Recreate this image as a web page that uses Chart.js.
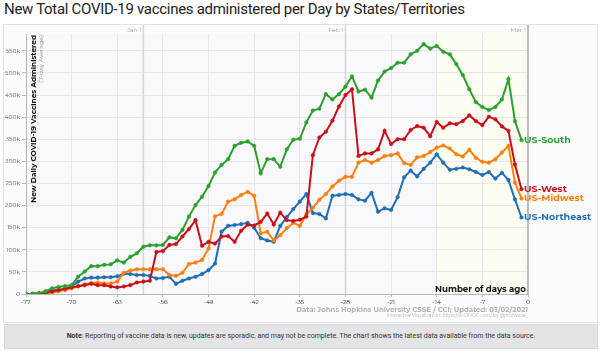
<!DOCTYPE html>
<html><head><meta charset="utf-8">
<script src="https://cdn.jsdelivr.net/npm/chart.js@4.4.1/dist/chart.umd.min.js"></script>
<style>
html,body{margin:0;padding:0;background:#fff;width:600px;height:351px;overflow:hidden}
#title{position:absolute;left:4px;top:0px;font:400 15px Roboto,sans-serif;letter-spacing:-0.3px;color:#222;white-space:nowrap}
#frame{position:absolute;left:3px;top:24px;width:593px;height:297px;border:1px solid #e2e2e8;background:#fcfcfe}
#note{position:absolute;left:4px;top:324px;width:592px;height:23px;background:#e3e4e6;border:1px solid #d6d7da;font:400 7px Roboto,sans-serif;color:#333;text-align:center;line-height:23px;white-space:nowrap}
#c{position:absolute;left:0;top:0}
</style></head>
<body>
<div id="title">New Total COVID-19 vaccines administered per Day by States/Territories</div>
<div id="frame"></div>
<div id="note"><b>Note</b>: Reporting of vaccine data is new, updates are sporadic, and may not be complete. The chart shows the latest data available from the data source.</div>
<canvas id="c" width="600" height="351"></canvas>
<script>
// Days ago (x axis categories)
const days = [-77,-76,-75,-74,-73,-72,-71,-70,-69,-68,
  -67,-66,-65,-64,-63,-62,-61,-60,-59,-58,
  -57,-56,-55,-54,-53,-52,-51,-50,-49,-48,
  -47,-46,-45,-44,-43,-42,-41,-40,-39,-38,
  -37,-36,-35,-34,-33,-32,-31,-30,-29,-28,
  -27,-26,-25,-24,-23,-22,-21,-20,-19,-18,
  -17,-16,-15,-14,-13,-12,-11,-10,-9,-8,
  -7,-6,-5,-4,-3,-2,-1];

// New daily vaccines administered, 7-day average, thousands
const usSouth = [0,0,2,6,13,16,18,20,39,51,
  63,63,66,67,76,71,84,92,107,110,
  110,111,128,126,145,175,201,220,244,275,
  292,305,335,342,345,335,273,305,305,288,
  327,349,351,388,415,419,452,440,452,469,
  492,458,462,444,483,503,511,523,523,542,
  550,565,555,561,548,542,520,495,463,434,
  423,416,423,440,486,391,348];
const usWest = [0,0,1,3,6,9,12,15,18,20,
  23,20,20,17,15,17,20,26,28,30,
  95,97,111,113,130,147,167,109,118,114,
  130,131,118,143,157,155,163,182,157,184,
  167,165,168,175,314,354,367,392,424,450,
  463,312,318,318,327,369,339,350,350,371,
  380,376,357,389,376,386,384,391,404,391,
  382,401,395,379,369,293,237];
const usMidwest = [0,0,0,1,3,6,9,13,17,22,
  25,26,24,24,28,48,53,56,56,56,
  56,56,43,41,48,68,71,77,103,176,
  181,209,214,224,231,222,137,141,121,133,
  149,161,154,180,195,213,226,243,256,265,
  265,297,303,297,303,312,314,318,296,292,
  309,312,321,331,336,329,316,311,326,308,
  299,297,305,320,335,252,216];
const usNortheast = [0,0,1,5,8,9,10,18,28,35,
  37,37,38,38,40,46,45,43,43,41,
  35,36,39,23,30,35,39,45,54,69,
  141,154,156,158,161,150,126,121,118,154,
  174,192,209,226,183,181,171,222,224,226,
  224,214,211,229,186,194,190,219,264,279,
  266,283,297,316,297,281,283,286,282,276,
  269,276,261,274,258,214,173];

const seriesNames = ['US-South','US-West','US-Midwest','US-Northeast'];
const seriesColors = ['#2ca02c','#c8101a','#ff7f0e','#1f6fb4'];
const seriesValues = [usSouth, usWest, usMidwest, usNortheast];

// Month markers (days ago) and labels
const monthDays = [-59, -28, 0];
const monthLabels = ['Jan 1', 'Feb 1', 'Mar 1'];

const LBL = 'Montserrat, "Open Sans", Lato, sans-serif';

const bgPlugin = {
  id: 'bg',
  beforeDraw(chart) {
    const {ctx, chartArea: a, scales: {x}} = chart;
    ctx.save();
    ctx.fillStyle = '#f9f9fc';
    ctx.fillRect(a.left, a.top, a.right - a.left, a.bottom - a.top);
    const xs = x.getPixelForValue(-14);
    ctx.fillStyle = '#fdfdf2';
    ctx.fillRect(xs, a.top, a.right - xs, a.bottom - a.top);
    ctx.restore();
  },
  beforeDatasetsDraw(chart) {
    const {ctx, chartArea: a, scales: {x}} = chart;
    ctx.save();
    monthDays.forEach((d, i) => {
      const px = x.getPixelForValue(d);
      ctx.strokeStyle = d === 0 ? '#b9b9c0' : '#d4d4da';
      ctx.lineWidth = d === 0 ? 2 : 1.5;
      ctx.beginPath(); ctx.moveTo(px, 25); ctx.lineTo(px, a.bottom); ctx.stroke();
      ctx.fillStyle = '#9a9aa2';
      ctx.font = '400 6px ' + LBL;
      ctx.textAlign = 'right'; ctx.textBaseline = 'middle';
      ctx.fillText(monthLabels[i], px - 2, 30);
    });
    // y-axis title inside plot
    ctx.translate(34, 35);
    ctx.rotate(-Math.PI / 2);
    ctx.textAlign = 'right'; ctx.textBaseline = 'middle';
    ctx.fillStyle = '#111';
    const t1 = 'New Daily COVID-19 Vaccines Administered';
    let fs = 8;
    ctx.font = '700 ' + fs + 'px ' + LBL;
    fs = fs * 168 / ctx.measureText(t1).width;
    ctx.font = '700 ' + fs.toFixed(2) + 'px ' + LBL;
    ctx.fillText(t1, 0, 0);
    ctx.fillStyle = '#8e8e94';
    const t2 = '(7-day Average)';
    let fs2 = 6;
    ctx.font = '400 ' + fs2 + 'px ' + LBL;
    fs2 = fs2 * 48 / ctx.measureText(t2).width;
    ctx.font = '400 ' + fs2.toFixed(2) + 'px ' + LBL;
    ctx.fillText(t2, 0, 7);
    ctx.restore();
  },
  afterDatasetsDraw(chart) {
    const {ctx, chartArea: a} = chart;
    ctx.save();
    ctx.textBaseline = 'middle'; ctx.textAlign = 'left';
    ctx.font = '700 9.5px ' + LBL;
    chart.data.datasets.forEach((ds, i) => {
      const meta = chart.getDatasetMeta(i);
      const p = meta.data[meta.data.length - 1];
      ctx.fillStyle = ds.borderColor;
      ctx.fillText(ds.label, p.x + 2.5, p.y);
    });
    // axis caption
    ctx.fillStyle = '#111';
    ctx.font = '700 8.6px ' + LBL;
    ctx.textAlign = 'right';
    ctx.fillText('Number of days ago', a.right - 2, a.bottom - 5);
    // source lines
    ctx.fillStyle = '#b3b3b8';
    ctx.font = '700 7px ' + LBL;
    ctx.fillText('Data: Johns Hopkins University CSSE / CCI; Updated: 03/02/2021', a.right, 309.5);
    ctx.font = '400 4.5px ' + LBL;
    ctx.fillText('Interactive Visualization: https://91-DIVOC.com/ by @profwade_', a.right, 315.5);
    ctx.restore();
  }
};

const datasets = seriesNames.map((n, i) => ({
  label: n,
  data: days.map((d, j) => ({x: d, y: seriesValues[i][j]})),
  borderColor: seriesColors[i],
  backgroundColor: seriesColors[i],
  pointBackgroundColor: seriesColors[i],
  pointBorderColor: seriesColors[i],
  pointRadius: 1.8,
  pointBorderWidth: 0.5,
  borderWidth: 2,
  tension: 0,
  fill: false
}));

new Chart(document.getElementById('c'), {
  type: 'line',
  data: { datasets },
  options: {
    responsive: false,
    animation: false,
    layout: { padding: { left: 0, top: 34, right: 72, bottom: 37 } },
    plugins: { legend: { display: false }, tooltip: { enabled: false } },
    scales: {
      x: {
        type: 'linear', min: -77, max: 0,
        ticks: { stepSize: 7, autoSkip: false, maxRotation: 0, padding: 2,
                 color: '#222', font: { size: 6, family: LBL } },
        grid: { color: '#e6e6ee', lineWidth: 1, tickLength: 3, tickColor: '#bbb' },
        border: { color: '#b5b5bb', width: 1 },
        afterFit: s => { s.height = 20; }
      },
      y: {
        min: 0, max: 588,
        ticks: { stepSize: 50, padding: 2, color: '#555',
                 font: { size: 6, family: LBL },
                 callback: v => v === 0 ? '0' : v + 'k' },
        grid: { color: '#e6e6ee', lineWidth: 1, tickLength: 4, tickColor: '#bbb' },
        border: { color: '#b5b5bb', width: 1 },
        afterBuildTicks: s => { s.ticks = s.ticks.filter(t => t.value % 50 === 0); },
        afterFit: s => { s.width = 26; }
      }
    }
  },
  plugins: [bgPlugin]
});
</script>
</body></html>
